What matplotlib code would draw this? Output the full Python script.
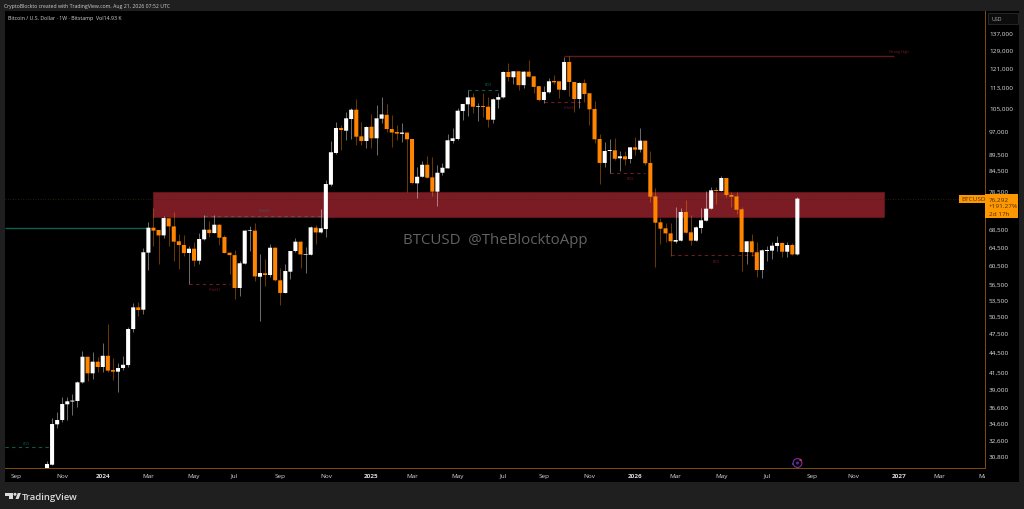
import numpy as np
import pandas as pd
import matplotlib
matplotlib.use("Agg")
import matplotlib.pyplot as plt
import matplotlib.dates as mdates
from matplotlib.patches import Rectangle, Polygon, Circle
from matplotlib.ticker import FixedLocator, FixedFormatter, NullLocator
from matplotlib.transforms import Bbox, TransformedBbox, IdentityTransform

plt.rcParams['font.family'] = ['Open Sans', 'DejaVu Sans']

# weekly candles, first week 2023-10-16
first_week = "2023-10-16"
opens = [29420, 29870, 34440, 34965, 36955, 37320, 37390, 39930, 43700, 41220,
         42945, 42145, 43850, 41700, 41460, 41995, 42440, 48185, 52010, 51580,
         63060, 68860, 68310, 67020, 71180, 69180, 65640, 64790, 62990, 63950,
         61300, 66100, 68380, 67570, 69590, 66640, 63050, 62520, 55680, 60670,
         68150, 68150, 57930, 58640, 58280, 64170, 57210, 54710, 58970, 63430,
         65550, 62590, 62590, 68860, 67720, 68540, 80140, 89600, 97850, 96920,
         101000, 104370, 95020, 93470, 98290, 94360, 101110, 102500, 97500, 96490,
         95850, 96290, 94130, 80510, 82400, 85960, 82230, 78180, 83580, 84880,
         93470, 94130, 103880, 106370, 109000, 105370, 105730, 105470, 100750, 108120,
         109000, 119200, 117000, 119500, 113800, 119340, 117400, 113400, 108000, 110960,
         115480, 115360, 111900, 123480, 115070, 108380, 114650, 110600, 104630, 94130,
         86510, 90230, 90460, 87940, 88560, 87720, 91410, 90650, 93570, 86510,
         76900, 70180, 68710, 67500, 65550, 65780, 72780, 67750, 65780, 68780,
         70580, 73630, 78640, 78370, 82040, 77260, 76900, 73470, 63200, 65640,
         63150, 59320, 63430, 63500, 64570, 65260, 63270, 64790, 62670]
closes = [29950, 34476, 34965, 36995, 37348, 37450, 39930, 43700, 41220, 42945,
          42145, 43850, 41610, 41460, 41995, 42480, 48185, 52010, 51525, 63150,
          68860, 68150, 67020, 71250, 69180, 65550, 64790, 62990, 63950, 61300,
          66170, 68380, 67570, 69590, 66480, 62990, 62520, 55680, 60750, 68150,
          68310, 58000, 58700, 58280, 64170, 57210, 54710, 59110, 63430, 65550,
          62670, 62740, 68950, 67720, 68710, 80320, 89840, 97850, 97160, 101250,
          104370, 94890, 93470, 98190, 94360, 101250, 102650, 97500, 96290, 95940,
          96290, 94030, 80620, 82400, 85960, 82120, 78180, 83580, 85060, 93700,
          94360, 104000, 106500, 109000, 105470, 105620, 105370, 100750, 108270, 109100,
          119200, 117100, 119500, 113800, 119340, 117250, 113100, 108000, 111100, 115360,
          114950, 112000, 123480, 115070, 108380, 114650, 110300, 104500, 94030, 86510,
          90230, 90550, 87800, 88560, 87630, 91410, 90650, 93570, 86420, 76800,
          70080, 68620, 67500, 65640, 65940, 72780, 67650, 65780, 68950, 70680,
          73630, 78560, 78370, 82040, 77260, 76800, 73360, 63200, 65640, 63150,
          59320, 63590, 63660, 64630, 65260, 63270, 64790, 62670, 76292]
highs = [30300, 35175, 35930, 37955, 37920, 38320, 40075, 44640, 43700, 44390,
         43700, 45880, 49050, 43500, 42730, 43850, 48470, 52740, 52930, 64030,
         70200, 73740, 68310, 71830, 71180, 72710, 67340, 67100, 64490, 65380,
         67500, 72000, 70580, 72000, 69760, 67180, 63150, 63720, 61300, 68310,
         69350, 69960, 62740, 61670, 64990, 64390, 59740, 60580, 63500, 66340,
         65640, 64260, 69180, 69490, 73550, 81470, 93370, 99860, 99010, 103400,
         105000, 108380, 100050, 98430, 102800, 106100, 109090, 106370, 102500, 98880,
         99510, 96400, 94130, 85370, 87180, 88650, 88430, 85960, 86480, 95850,
         97850, 104880, 106500, 111870, 110700, 106900, 110700, 109000, 108640, 110700,
         119500, 123000, 119750, 119500, 119750, 124350, 117400, 113450, 113550, 116580,
         117850, 115360, 125530, 125900, 115070, 115200, 116290, 110600, 107500, 95850,
         93040, 94130, 94460, 90330, 90330, 91600, 94700, 97850, 93570, 90330,
         79200, 71250, 69990, 69990, 74150, 73810, 75920, 72000, 69180, 73810,
         78290, 79390, 79390, 82720, 82040, 78000, 78000, 74000, 65640, 67270,
         65380, 63880, 64570, 65380, 66860, 65380, 65380, 65260, 76700]
lows = [29300, 29840, 34030, 34720, 34965, 35590, 36640, 39880, 40160, 40400,
        41370, 41370, 41370, 40220, 38560, 41750, 42190, 47630, 50500, 50810,
        59320, 64490, 60580, 66340, 64490, 61300, 59530, 62400, 56470, 60230,
        60580, 66000, 66570, 67500, 64790, 62990, 58500, 53560, 54180, 60580,
        63370, 57130, 49510, 56120, 57800, 57130, 52440, 54660, 57470, 63150,
        59740, 58700, 62460, 64990, 67500, 66700, 79870, 89280, 90550, 93900,
        94130, 92160, 92160, 91090, 91090, 89060, 99510, 96380, 91410, 93900,
        93270, 78000, 80320, 76450, 82230, 81950, 77070, 74410, 83000, 84880,
        92840, 93900, 100750, 102100, 103020, 100400, 101600, 98290, 99630, 104880,
        108850, 115600, 114330, 112000, 112600, 117000, 110600, 107500, 107030, 110700,
        114400, 108760, 111750, 109660, 103650, 104880, 107130, 98900, 92840, 80320,
        85190, 83640, 87500, 84180, 85960, 86600, 89060, 90000, 85930, 75470,
        60000, 65000, 65380, 62400, 65190, 65780, 67500, 64790, 65700, 67570,
        70430, 73550, 74860, 78290, 76640, 74150, 72260, 59110, 60580, 62270,
        57930, 57670, 61240, 61670, 63500, 62160, 62160, 62520, 62590]

price_ticks = [137000, 129000, 121000, 113000, 105000, 97000, 89500, 84500, 78500,
               68500, 64500, 60500, 56500, 53500, 50500, 47500, 44500, 41500, 39000,
               36600, 34600, 32600, 30800]
date_ticks = ["2023-09-04", "2023-11-06", "2024-01-01", "2024-03-04", "2024-05-06",
              "2024-07-01", "2024-09-02", "2024-11-04", "2025-01-06", "2025-03-03",
              "2025-05-05", "2025-07-07", "2025-09-01", "2025-11-03", "2026-01-05",
              "2026-03-02", "2026-05-04", "2026-07-06", "2026-09-07", "2026-11-02",
              "2027-01-04", "2027-03-01", "2027-05-03"]
date_labels = ["Sep", "Nov", "2024", "Mar", "May", "Jul", "Sep", "Nov", "2025", "Mar",
               "May", "Jul", "Sep", "Nov", "2026", "Mar", "May", "Jul", "Sep", "Nov",
               "2027", "Mar", "May"]

# drawn structure levels
level_prices = [31750, 68860, 71830, 56530, 111870, 107130, 83640, 62460, 126000]
level_starts = ["2023-08-19", "2023-08-19", "2024-05-20", "2024-04-29", "2025-05-19",
                "2025-09-01", "2025-12-01", "2026-02-23", "2025-09-29"]
level_ends = ["2023-10-23", "2024-03-04", "2024-11-11", "2024-06-24", "2025-06-30",
              "2025-10-27", "2026-01-19", "2026-06-22", "2026-12-28"]
level_colors = ["#0c5c4c", "#0f5f50", "#4a5a55", "#6e1a22", "#0c5c4c",
                "#6e1a22", "#6e1a22", "#6e1a22", "#5f1a20"]
level_styles = ["--", "-", "--", "--", "--", "--", "--", "--", "-"]

tag_texts = ["BOS", "CHoCH", "CHoCH", "BOS", "CHoCH", "BOS", "BOS", "Strong High"]
tag_dates = ["2023-09-18", "2024-08-12", "2024-06-03", "2025-06-16", "2025-10-06",
             "2025-12-29", "2026-04-27", "2027-01-04"]
tag_prices = [32230, 73290, 55480, 114250, 105250, 82120, 61300, 128400]
tag_colors = ["#0c5c4c", "#4a5a55", "#7a1c24", "#0c6c5a", "#7a1c24", "#7a1c24", "#7a1c24", "#7a1c24"]

zone_top, zone_bottom = 78100, 71620
zone_start, zone_end = "2024-03-11", "2026-12-14"
last_price = 76292

W, H = 1024, 510
DARK = "#1f1f1f"
ORANGE = "#ff8400"
TAG = "#ff9800"


def box(x0, y0, x1, y1):
    # pixel box (y going down) to figure fractions
    return x0 / W, 1 - y1 / H, (x1 - x0) / W, (y1 - y0) / H


def fig_rect(x0, y0, x1, y1, color, zorder=1):
    l, b, w, h = box(x0, y0, x1, y1)
    fig.add_artist(Rectangle((l, b), w, h, transform=fig.transFigure, facecolor=color,
                             edgecolor="none", zorder=zorder))


def fig_text(x, y, s, **kw):
    fig.text(x / W, 1 - y / H, s, va="center", zorder=6, **kw)


def dot(x, y, r, face, edge="none", lw=0):
    # round in pixels, so drawn in display coordinates
    fig.add_artist(Circle((x, H - y), r, transform=IdentityTransform(), facecolor=face,
                          edgecolor=edge, linewidth=lw, zorder=6))


fig = plt.figure(figsize=(W / 100, H / 100), dpi=100, facecolor=DARK)
fig_rect(5, 12, 1019, 483, "black", zorder=-1)

ax = fig.add_axes(box(5, 12, 985.3, 469.3), facecolor="black")
ax.set_yscale("log")
ax.set_ylim(29495, 147780)
ax.set_xlim(mdates.date2num(pd.Timestamp("2023-08-19")), mdates.date2num(pd.Timestamp("2027-05-03 12:00")))

weeks = mdates.date2num(pd.date_range(first_week, periods=len(opens), freq="7D"))
o = np.array(opens, dtype=float)
c = np.array(closes, dtype=float)
up = c >= o

ax.add_patch(Rectangle((mdates.date2num(pd.Timestamp(zone_start)), zone_bottom),
                       mdates.date2num(pd.Timestamp(zone_end)) - mdates.date2num(pd.Timestamp(zone_start)),
                       zone_top - zone_bottom, facecolor="#7b1c24", edgecolor="#6a171e",
                       linewidth=0.5, zorder=1))
ax.axhline(last_price, color="#3a2a08", lw=0.6, ls=(0, (1, 2)), zorder=1.5)

for i in range(len(level_prices)):
    ax.hlines(level_prices[i], pd.Timestamp(level_starts[i]), pd.Timestamp(level_ends[i]),
              color=level_colors[i], lw=1.0 if level_styles[i] == "-" else 0.8,
              ls=(0, (3, 3)) if level_styles[i] == "--" else "-", zorder=2)
for i in range(len(tag_texts)):
    ax.text(pd.Timestamp(tag_dates[i]), tag_prices[i], tag_texts[i], color=tag_colors[i],
            fontsize=2.6, ha="center", va="center", zorder=2)

wick_colors = ["#ffffff" if u else ORANGE for u in up]
ax.vlines(weeks, lows, highs, colors=wick_colors, lw=0.75, alpha=0.42, zorder=3)
bodies = ax.bar(weeks, np.maximum(np.abs(c - o), 1), bottom=np.minimum(o, c), width=5.6,
                color=wick_colors, linewidth=0, zorder=4)
# pixel snapping makes the gaps between candles uneven
for body in bodies:
    body.set_snap(False)

ax.text(0.5, 0.5, "BTCUSD  @TheBlocktoApp", transform=ax.transAxes, color="#626262",
        fontsize=10.8, ha="center", va="center", zorder=5)

for s in ["top", "left"]:
    ax.spines[s].set_visible(False)
for s in ["right", "bottom"]:
    ax.spines[s].set_color("#7a4c08")
    ax.spines[s].set_linewidth(0.75)

ax.yaxis.tick_right()
ax.yaxis.set_major_locator(FixedLocator(price_ticks))
ax.yaxis.set_major_formatter(FixedFormatter([f"{p:,}" for p in price_ticks]))
ax.yaxis.set_minor_locator(NullLocator())
ax.tick_params(axis="y", length=0, pad=2.6, labelsize=4.6, labelcolor="#e0e0e0")

ax.set_xticks(mdates.date2num(pd.to_datetime(date_ticks)))
ax.set_xticklabels(date_labels)
ax.tick_params(axis="x", length=0, pad=3.2, labelsize=4.6, labelcolor="#d8d8d8")
clip = TransformedBbox(Bbox([[5 / W, 0], [985.3 / W, 1]]), fig.transFigure)
for lab in ax.get_xticklabels():
    lab.set_clip_box(clip)
    lab.set_clip_on(True)
    if lab.get_text().isdigit():
        lab.set_fontweight("bold")

# header
fig_text(4, 6.3, "CryptoBlockto created with TradingView.com, Aug 21, 2026 07:52 UTC",
         color="#d0d0d0", fontsize=3.72)
fig_text(8, 18.3, "Bitcoin / U.S. Dollar · 1W · Bitstamp  Vol14.93 K", color="#d4d4d4", fontsize=3.82)

# currency box and last price tag
l, b, w, h = box(987.5, 13.5, 1017.5, 25)
fig.add_artist(Rectangle((l, b), w, h, transform=fig.transFigure, facecolor="#0c0c0c",
                         edgecolor="#2b2b2b", linewidth=0.6, zorder=5))
fig_text(991, 19.5, "USD", color="#b8b8b8", fontsize=3.8)

fig_rect(959.3, 195.6, 985.5, 204.3, TAG, zorder=5)
fig_rect(985.3, 195.3, 1017.7, 218.6, TAG, zorder=5)
fig_text(961, 200, "BTCUSD", color="#4a2e00", fontsize=4.6)
fig_text(989, 199.8, "76,292", color="#4a2e00", fontsize=4.6)
fig_text(989, 207, "+191.27%", color="#4a2e00", fontsize=4.6)
fig_text(989, 214.5, "2d 17h", color="#4a2e00", fontsize=4.6)

# purple marker above the time axis
dot(797.5, 464, 4.4, "none", "#7b2fa8", 0.8)
dot(797.5, 464, 1.6, "#4b2a8a")
dot(800.5, 461, 1.2, "#e03040")
dot(792.7, 465, 0.9, "#3040d0")

# TradingView logo
logo = "#dcdcdc"
fig_rect(5, 494, 12.7, 496.7, logo, zorder=6)
fig_rect(9.3, 494, 12.7, 500, logo, zorder=6)
dot(15, 495.3, 1.5, logo)
fig.add_artist(Polygon([(15.5 / W, 1 - 500 / H), (18.6 / W, 1 - 500 / H), (20.9 / W, 1 - 494 / H),
                        (17.8 / W, 1 - 494 / H)], closed=True, transform=fig.transFigure,
                       facecolor=logo, edgecolor="none", zorder=6))
fig_text(22, 497.2, "TradingView", color=logo, fontsize=6.8, fontweight="semibold")

fig.savefig("out.png", dpi=100, facecolor=DARK)
